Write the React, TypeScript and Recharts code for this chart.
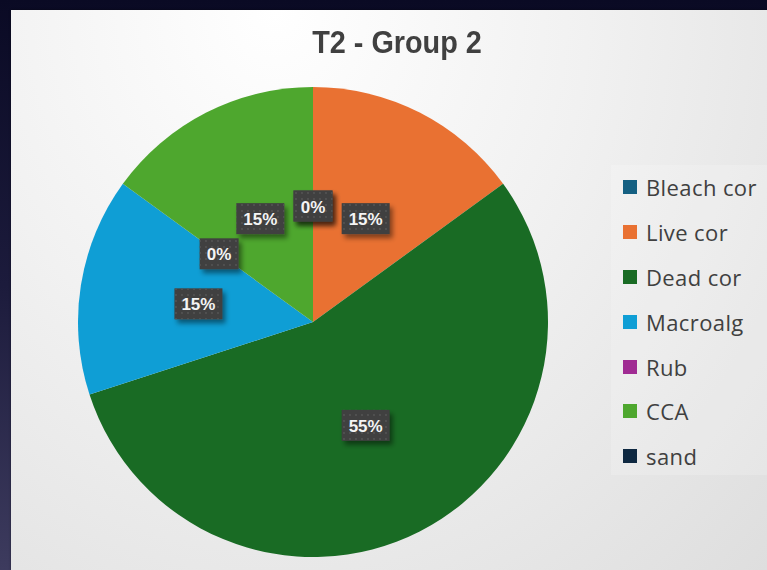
import React from 'react';
import { PieChart, Pie, Cell, Legend } from 'recharts';

// Benthic cover categories and their share (%)
const categories = ['Bleach cor', 'Live cor', 'Dead cor', 'Macroalg', 'Rub', 'CCA', 'sand'];
const shares = [0, 15, 55, 15, 0, 15, 0];

// Office-style palette, one per category
const sliceColors = ['#156082', '#E97132', '#196B24', '#0F9ED5', '#A02B93', '#4EA72E', '#0E2841'];

const pieData = categories.map((name, i) => ({ name, value: shares[i] }));

const RAD = Math.PI / 180;
const textGrey = '#404040';

const renderLabel = (props: any) => {
  const { cx, cy, midAngle, value } = props;
  const r = 116;
  const x = cx + r * Math.cos(-midAngle * RAD);
  const y = cy + r * Math.sin(-midAngle * RAD);
  const text = `${value}%`;
  const w = text.length <= 2 ? 39 : 48;
  const h = 31;
  return (
    <g>
      <rect x={x - w / 2} y={y - h / 2} width={w} height={h} fill="#404040" filter="url(#lblShadow)" />
      <rect x={x - w / 2} y={y - h / 2} width={w} height={h} fill="url(#lblDots)" />
      <text
        x={x}
        y={y + 1}
        textAnchor="middle"
        dominantBaseline="central"
        fill="#f4f4f4"
        fontSize={17}
        fontWeight="bold"
        fontFamily="'Liberation Sans', Arial, sans-serif"
      >
        {text}
      </text>
    </g>
  );
};

const LegendList = () => (
  <div
    style={{
      background: 'rgba(255,255,255,0.18)',
      width: 160,
      height: 310,
      paddingTop: 0,
      boxSizing: 'border-box',
    }}
  >
    {categories.map((name, i) => (
      <div key={name} style={{ display: 'flex', alignItems: 'center', height: 44.8 }}>
        <span
          style={{
            display: 'inline-block',
            width: 14,
            height: 14,
            marginLeft: 12,
            marginRight: 9,
            background: sliceColors[i],
          }}
        />
        <span
          style={{
            fontFamily: "'Open Sans', 'Noto Sans', sans-serif",
            fontSize: 22,
            letterSpacing: 0.4,
            color: textGrey,
          }}
        >
          {name}
        </span>
      </div>
    ))}
  </div>
);

export default function App() {
  return (
    <div
      style={{
        position: 'fixed',
        left: 0,
        top: 0,
        width: 767,
        height: 570,
        overflow: 'hidden',
        background: 'linear-gradient(180deg, #0a0a24 0%, #1c1b3c 50%, #3d3b5e 100%)',
      }}
    >
      <svg width={0} height={0} style={{ position: 'absolute' }}>
        <defs>
          <pattern id="lblDots" width={6} height={6} patternUnits="userSpaceOnUse">
            <circle cx={3} cy={3} r={0.9} fill="#565656" />
          </pattern>
          <filter id="lblShadow" x="-30%" y="-30%" width="170%" height="170%">
            <feDropShadow dx={3} dy={4} stdDeviation={2.5} floodColor="#000" floodOpacity={0.45} />
          </filter>
        </defs>
      </svg>
      <div
        style={{
          position: 'absolute',
          left: 11,
          top: 10,
          width: 756,
          height: 560,
          background: 'radial-gradient(ellipse at 35% 0%, #ffffff 0%, #f1f1f1 45%, #dedede 100%)',
          boxShadow: '0 0 2px rgba(0,0,0,0.5)',
        }}
      >
        <div
          style={{
            position: 'absolute',
            left: 0,
            width: 772,
            top: 14,
            textAlign: 'center',
            fontFamily: "'Liberation Sans', Arial, sans-serif",
            fontWeight: 'bold',
            fontSize: 32,
            lineHeight: '36px',
            color: textGrey,
            transform: 'scaleX(0.9)',
          }}
        >
          T2 - Group 2
        </div>
        <PieChart
          width={756}
          height={560}
          margin={{ top: 0, right: 0, bottom: 0, left: 0 }}
          style={{ position: 'absolute', left: 0, top: 0 }}
        >
          <Pie
            data={pieData}
            dataKey="value"
            nameKey="name"
            cx={302}
            cy={312}
            outerRadius={235}
            startAngle={90}
            endAngle={-270}
            stroke="none"
            label={renderLabel}
            labelLine={false}
            isAnimationActive={false}
          >
            {pieData.map((d, i) => (
              <Cell key={d.name} fill={sliceColors[i]} />
            ))}
          </Pie>
          <Legend
            layout="vertical"
            content={() => <LegendList />}
            wrapperStyle={{ position: 'absolute', left: 600, top: 155, width: 160 }}
          />
        </PieChart>
      </div>
    </div>
  );
}
